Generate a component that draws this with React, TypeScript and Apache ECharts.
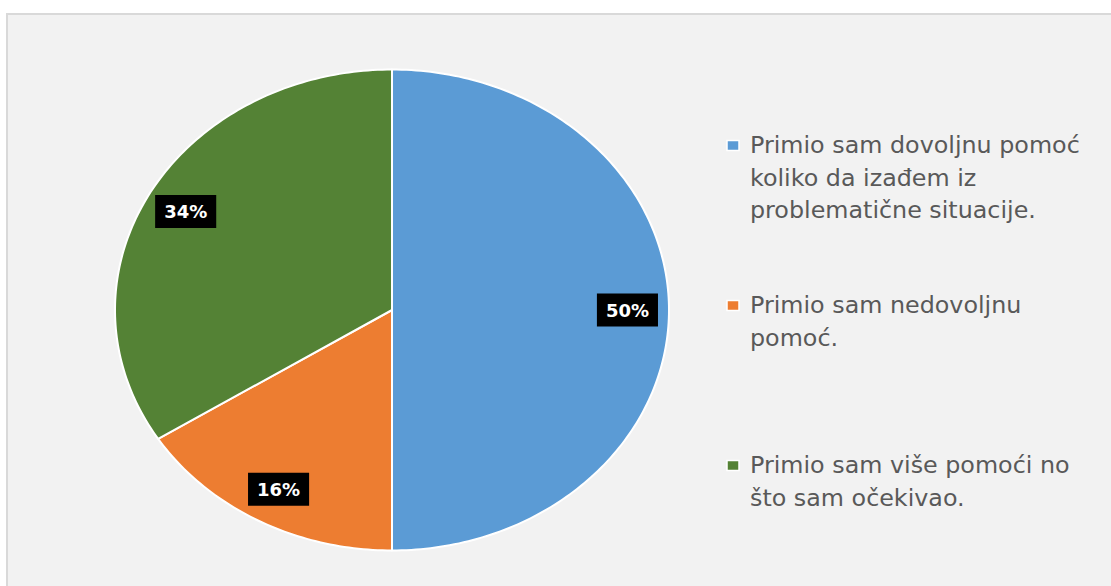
import React, { useEffect, useRef } from "react";
import * as echarts from "echarts";

const categories = [
  "Primio sam dovoljnu pomoć koliko da izađem iz problematične situacije.",
  "Primio sam nedovoljnu pomoć.",
  "Primio sam više pomoći no što sam očekivao.",
];
const legendLines = [
  ["Primio sam dovoljnu pomoć", "koliko da izađem iz", "problematične situacije."],
  ["Primio sam nedovoljnu", "pomoć."],
  ["Primio sam više pomoći no", "što sam očekivao."],
];
const values = [50, 16, 34];
const percentLabels = ["50%", "16%", "34%"];
const colors = ["#5b9bd5", "#ed7d31", "#548235"];

const CX = 392;
const CY = 310;
const RX = 277;
const RY = 240.5;
const LABEL_F = 0.85;
const legendTops = [145, 305, 465];
const LINE_H = 32.5;

export default function App() {
  const ref = useRef<HTMLDivElement>(null);
  useEffect(() => {
    if (!ref.current) return;
    const chart = echarts.init(ref.current, undefined, { renderer: "svg" });
    const total = values.reduce((a, b) => a + b, 0);

    const renderItem = (params: any, api: any) => {
      const idx = params.dataIndex;
      const v = api.value(0);
      let start = 0;
      for (let i = 0; i < idx; i++) start += values[i];
      const a0 = (start / total) * Math.PI * 2;
      const a1 = ((start + v) / total) * Math.PI * 2;
      const pts: number[][] = [[CX, CY]];
      const n = Math.max(8, Math.ceil(((a1 - a0) / (Math.PI * 2)) * 360));
      for (let k = 0; k <= n; k++) {
        const a = a0 + ((a1 - a0) * k) / n;
        pts.push([CX + RX * Math.sin(a), CY - RY * Math.cos(a)]);
      }
      const am = (a0 + a1) / 2;
      const lx = CX + RX * LABEL_F * Math.sin(am);
      const ly = CY - RY * LABEL_F * Math.cos(am);
      return {
        type: "group",
        children: [
          {
            type: "polygon",
            shape: { points: pts },
            style: {
              fill: colors[idx],
              stroke: "#ffffff",
              lineWidth: 2,
              lineJoin: "round",
            },
          },
          {
            type: "text",
            x: lx,
            y: ly,
            z2: 10,
            style: {
              text: percentLabels[idx],
              fill: "#ffffff",
              font: "bold 18px 'DejaVu Sans'",
              align: "center",
              verticalAlign: "middle",
              backgroundColor: "#000000",
              padding: [8, 9, 7, 9],
            },
          },
        ],
      };
    };

    const graphics: any[] = [
      {
        type: "rect",
        z: -10,
        shape: { x: 7, y: 14, width: 1120, height: 600 },
        style: { fill: "#f2f2f2", stroke: "#d9d9d9", lineWidth: 2 },
      },
    ];
    legendLines.forEach((lines, i) => {
      const top = legendTops[i];
      graphics.push({
        type: "rect",
        shape: { x: 727, y: top - 4.5, width: 12, height: 10 },
        style: { fill: colors[i], stroke: "#ffffff", lineWidth: 1.5 },
      });
      lines.forEach((line, j) => {
        graphics.push({
          type: "text",
          x: 750,
          y: top + j * LINE_H,
          style: {
            text: line,
            fill: "#595959",
            font: "23.8px 'DejaVu Sans'",
            align: "left",
            verticalAlign: "middle",
          },
        });
      });
    });

    chart.setOption({
      animation: false,
      backgroundColor: "#ffffff",
      graphic: graphics,
      series: [
        {
          type: "custom",
          coordinateSystem: "none",
          renderItem,
          data: values.map((v, i) => ({ value: [v], name: categories[i] })),
        },
      ],
    });
    return () => chart.dispose();
  }, []);
  return (
    <div
      ref={ref}
      style={{ position: "absolute", left: 0, top: 0, width: 1111, height: 586 }}
    />
  );
}
